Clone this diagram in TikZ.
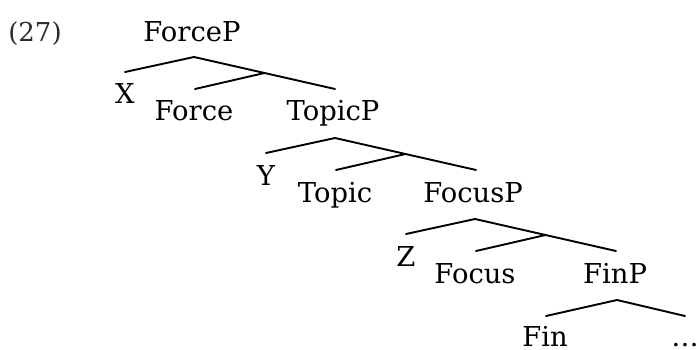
\documentclass[tikz,border=0pt]{standalone}
\usepackage{fontspec}
\setmainfont{DejaVu Serif}
\usetikzlibrary{calc}
\definecolor{numgray}{HTML}{2B2B2B}
\begin{document}
\begin{tikzpicture}[x=1pt,y=-1pt,
  lab/.style={inner sep=0pt,anchor=base,font=\fontsize{27.4}{30}\selectfont},
  branch/.style={line width=1.9pt,line cap=round,line join=round}]
\useasboundingbox (0,0) rectangle (698,350);
\node[lab,font=\fontsize{26}{29}\selectfont,text=numgray] (num) at (35,42) {(27)};
% apex coordinates
\coordinate (a0) at (194,57);
\coordinate (a1) at (335,138);
\coordinate (a2) at (475,219);
\coordinate (a3) at (617,300);
% labels
\node[lab] (forceP) at ($(a0)+(-2,-15)$) {ForceP};
\node[lab] (x) at ($(a0)+(-69,47)$) {X};
\node[lab] (force) at ($(a0)+(0,64)$) {Force};
\node[lab] (topicP) at ($(a1)+(-2,-17)$) {TopicP};
\node[lab] (y) at ($(a1)+(-69,47)$) {Y};
\node[lab] (topic) at ($(a1)+(0,64)$) {Topic};
\node[lab] (focusP) at ($(a2)+(-2,-17)$) {FocusP};
\node[lab] (z) at ($(a2)+(-69,47)$) {Z};
\node[lab] (focus) at ($(a2)+(0,64)$) {Focus};
\node[lab] (finP) at ($(a3)+(-2,-17)$) {FinP};
\node[lab] (fin) at ($(a3)+(-72,46)$) {Fin};
\node[lab] (dots) at ($(a3)+(68,46)$) {…};
% branches for the three binary-branching phrases
\foreach \i in {0,1,2}{
  \coordinate (l\i) at ($(a\i)+(-69,15)$);
  \coordinate (r\i) at ($(a\i)+(141,32)$);
  \coordinate (j\i) at ($(a\i)!0.5!(r\i)$);
  \coordinate (h\i) at ($(a\i)+(1,32)$);
  \draw[branch] (l\i) -- (a\i) -- (r\i);
  \draw[branch] (j\i) -- (h\i);
}
\coordinate (l3) at ($(a3)+(-71,16)$);
\coordinate (r3) at ($(a3)+(68,16)$);
\draw[branch] (l3) -- (a3) -- (r3);
\end{tikzpicture}
\end{document}
